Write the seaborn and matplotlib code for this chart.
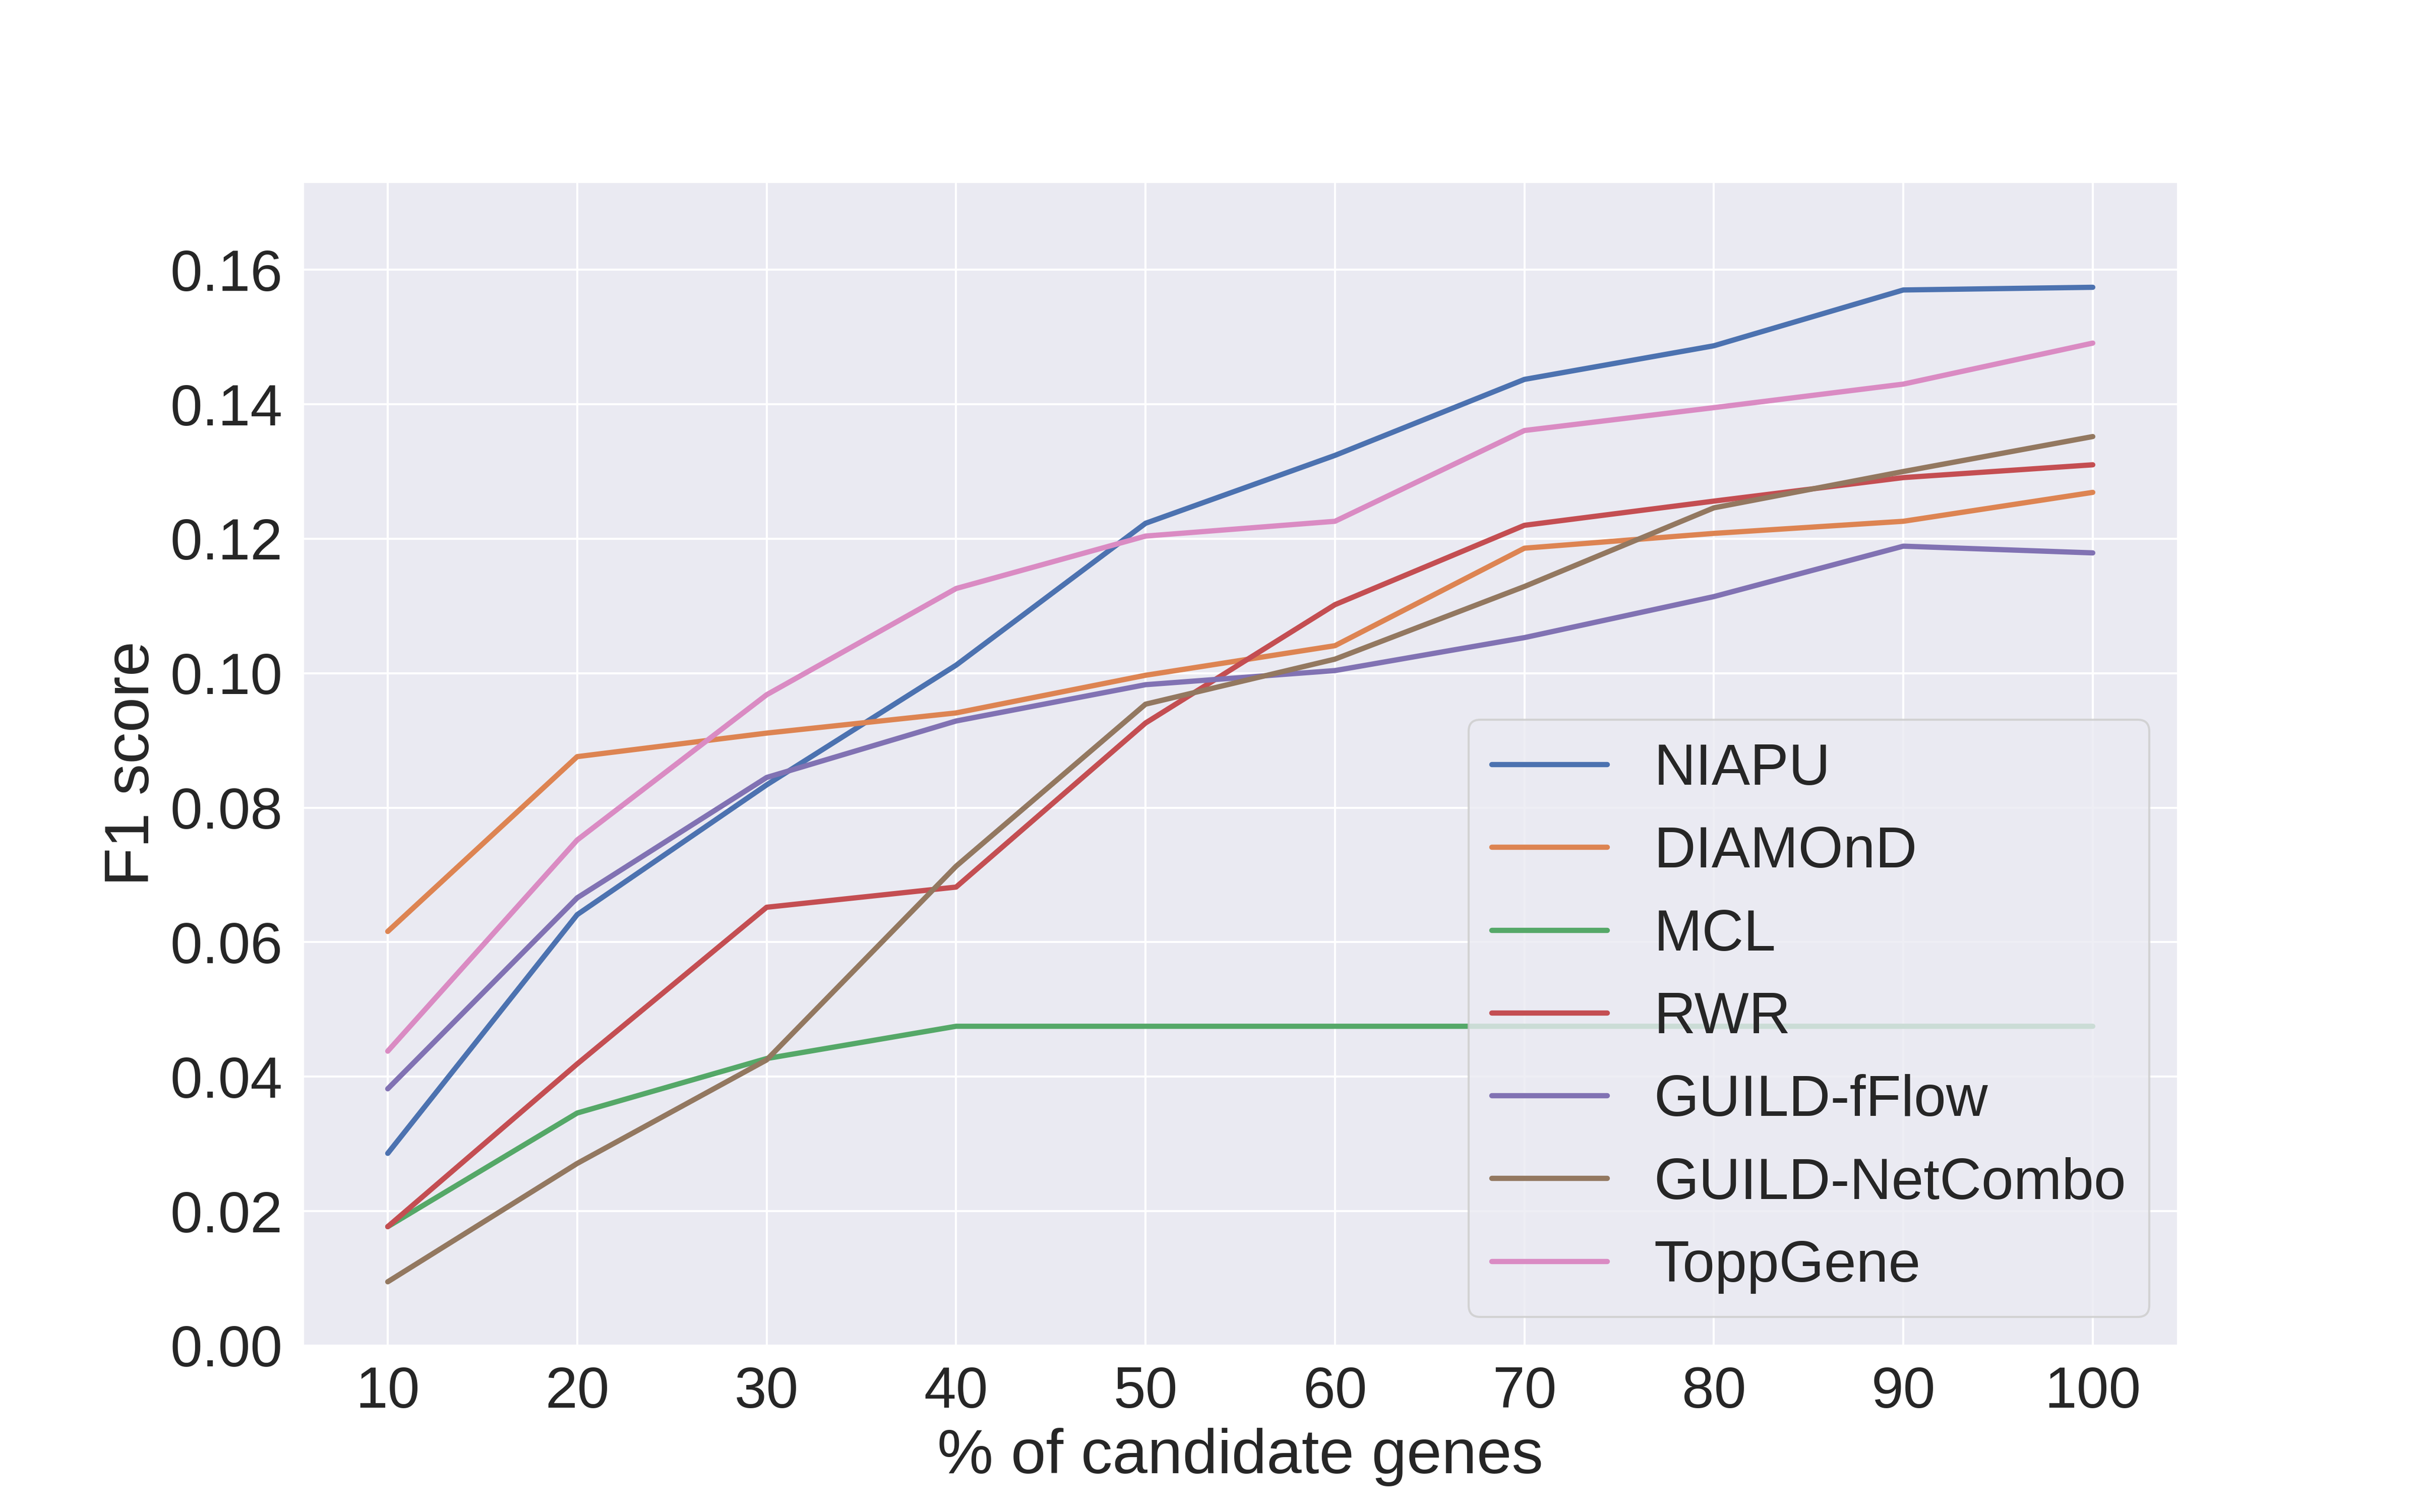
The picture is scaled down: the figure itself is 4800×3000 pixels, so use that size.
import pandas as pd
import seaborn as sns
import matplotlib
matplotlib.use('Agg')
import matplotlib.pyplot as plt

# % of candidate genes on x
pct = [10, 20, 30, 40, 50, 60, 70, 80, 90, 100]

niapu = [0.0286, 0.0641, 0.0834, 0.1012, 0.1223, 0.1324, 0.1437, 0.1487, 0.1570, 0.1574]
diamond = [0.0616, 0.0876, 0.0911, 0.0941, 0.0997, 0.1041, 0.1186, 0.1208, 0.1226, 0.1269]
mcl = [0.0177, 0.0346, 0.0427, 0.0475, 0.0475, 0.0475, 0.0475, 0.0475, 0.0475, 0.0475]
rwr = [0.0177, 0.0419, 0.0652, 0.0682, 0.0926, 0.1102, 0.1220, 0.1256, 0.1291, 0.1310]
fflow = [0.0382, 0.0666, 0.0845, 0.0929, 0.0983, 0.1004, 0.1053, 0.1114, 0.1189, 0.1179]
netcombo = [0.0095, 0.0271, 0.0425, 0.0713, 0.0954, 0.1021, 0.1129, 0.1246, 0.1300, 0.1352]
toppgene = [0.0438, 0.0752, 0.0968, 0.1126, 0.1204, 0.1226, 0.1361, 0.1395, 0.1430, 0.1491]

methods = ['NIAPU', 'DIAMOnD', 'MCL', 'RWR', 'GUILD-fFlow', 'GUILD-NetCombo', 'ToppGene']
scores = [niapu, diamond, mcl, rwr, fflow, netcombo, toppgene]

sns.set_theme(style='darkgrid', font_scale=2.5)
plt.rcParams['font.family'] = ['Liberation Sans', 'DejaVu Sans']
plt.rcParams['grid.linewidth'] = 1.0

fig, ax = plt.subplots(figsize=(16, 10))

for name, vals in zip(methods, scores):
    sns.lineplot(x=pct, y=vals, label=name, ax=ax, linewidth=2.5)

ax.set_ylim(0, max(niapu) * 1.1)
ax.set_xticks(pct)
ax.set_xlabel('% of candidate genes')
ax.set_ylabel('F1 score')
ax.legend(loc='lower right', fontsize=27.5)

plt.savefig('out.png', dpi=300)
